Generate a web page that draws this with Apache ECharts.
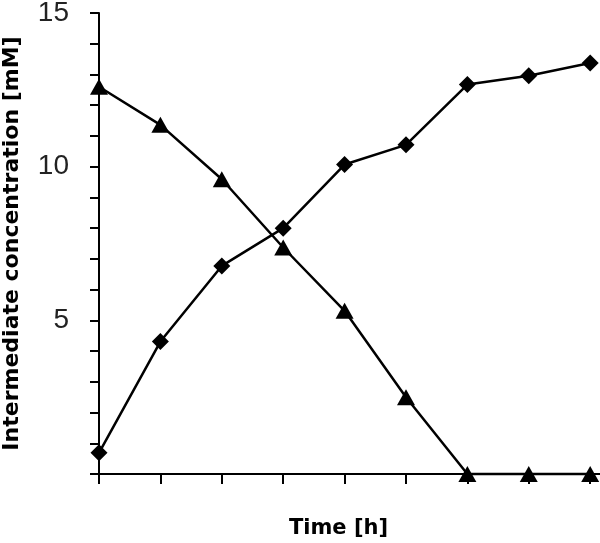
<!DOCTYPE html>
<html>
<head>
<meta charset="utf-8">
<script src="https://cdn.jsdelivr.net/npm/echarts@6/dist/echarts.min.js"></script>
<style>html,body{margin:0;padding:0;background:#fff}#c{width:600px;height:543px}</style>
</head>
<body>
<div id="c"></div>
<script>
const times = [0, 1, 2, 3, 4, 5, 6, 7, 8];
const diamondSeries = [0.69, 4.31, 6.77, 8.0, 10.07, 10.71, 12.67, 12.96, 13.37];
const triangleSeries = [12.6, 11.36, 9.59, 7.37, 5.31, 2.5, 0, 0, 0];
const yTickLabels = [5, 10, 15];
const xTicks = [0, 1, 2, 3, 4, 5, 6, 7, 8];

const chart = echarts.init(document.getElementById('c'));
const font = 'Liberation Sans, Arial, sans-serif';
const nameFont = 'DejaVu Sans, Liberation Sans, sans-serif';
chart.setOption({
  animation: false,
  grid: { left: 99, top: 13, right: 0, bottom: 69, containLabel: false, outerBoundsMode: 'none' },
  xAxis: {
    type: 'value', min: 0, max: 8.16, interval: 1,
    name: 'Time [h]', nameLocation: 'middle', nameGap: 44,
    nameTextStyle: { fontFamily: nameFont, fontWeight: 'bold', fontSize: 21, color: '#000', padding: [0, 22, 0, 0] },
    axisLine: { lineStyle: { color: '#000', width: 2 } },
    axisTick: { show: true, inside: false, length: 10, lineStyle: { color: '#000', width: 2 }, customValues: xTicks },
    axisLabel: { show: false },
    splitLine: { show: false }
  },
  yAxis: {
    type: 'value', min: 0, max: 15, interval: 1,
    name: 'Intermediate concentration [mM]', nameLocation: 'middle', nameGap: 76, nameRotate: 90,
    nameTextStyle: { fontFamily: nameFont, fontWeight: 'bold', fontSize: 22, color: '#000' },
    axisLine: { show: true, lineStyle: { color: '#000', width: 2 } },
    axisTick: { show: true, inside: false, length: 9, lineStyle: { color: '#000', width: 2 } },
    axisLabel: { customValues: yTickLabels, fontFamily: font, fontSize: 28, color: '#222', margin: 30 },
    splitLine: { show: false }
  },
  series: [
    {
      type: 'line', data: times.map((t, i) => [t, diamondSeries[i]]),
      symbol: 'diamond', symbolSize: 17, clip: false,
      lineStyle: { color: '#000', width: 2.5 }, itemStyle: { color: '#000' }
    },
    {
      type: 'line', data: times.map((t, i) => [t, triangleSeries[i]]),
      symbol: 'triangle', symbolSize: [18, 16], clip: false,
      lineStyle: { color: '#000', width: 2.5 }, itemStyle: { color: '#000' }
    }
  ]
});
</script>
</body>
</html>
